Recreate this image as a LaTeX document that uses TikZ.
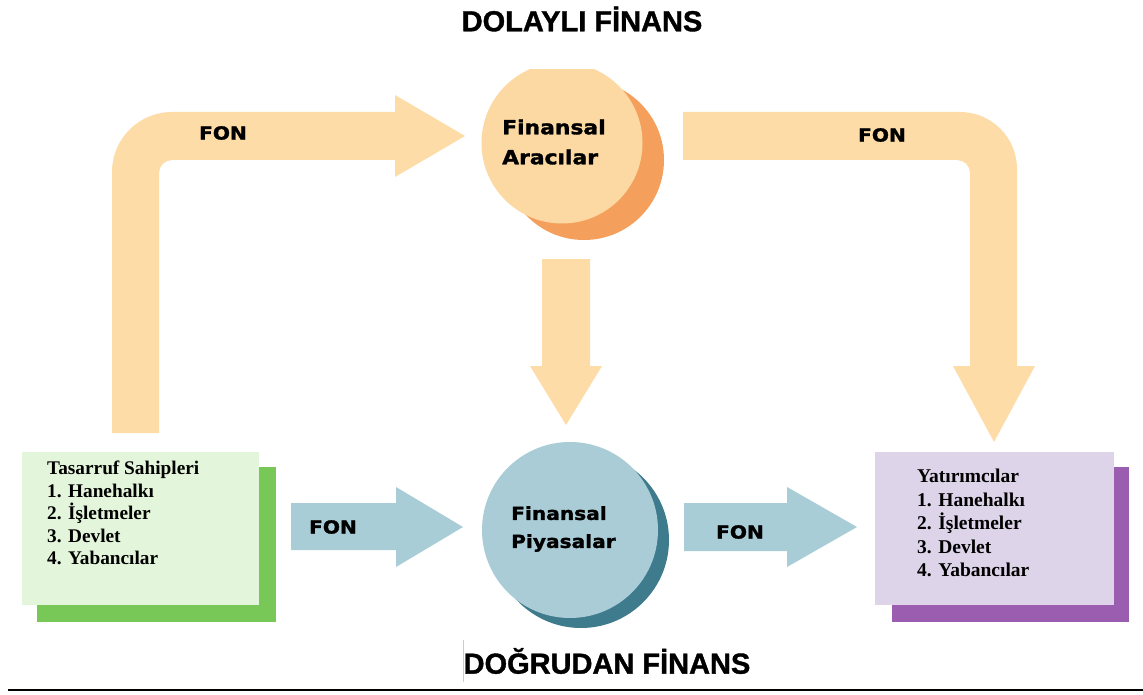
\documentclass[tikz,border=0pt]{standalone}
\usepackage{fontspec}
\setmainfont{Liberation Serif}
\newfontfamily\heavy[FakeStretch=1.12,FakeBold=1.6]{DejaVu Sans}
\newfontfamily\titlefont[FakeBold=1.2]{Liberation Sans}
\definecolor{peach}{HTML}{FDDCA8}
\definecolor{peachC}{HTML}{FCD9A2}
\definecolor{orangeS}{HTML}{F4A05C}
\definecolor{blueA}{HTML}{A9CDD7}
\definecolor{blueC}{HTML}{A9CCD6}
\definecolor{tealS}{HTML}{3D7B8D}
\definecolor{greenF}{HTML}{E3F5DB}
\definecolor{greenS}{HTML}{77C857}
\definecolor{purpF}{HTML}{DDD4EA}
\definecolor{purpS}{HTML}{9A5DB0}
\tikzset{
  fonlbl/.style={font=\heavy\bfseries\fontsize{18}{20}\selectfont, inner sep=0pt},
  circlbl/.style={font=\heavy\bfseries\fontsize{19.5}{30}\selectfont, align=left, inner sep=0pt, anchor=west},
  boxlbl/.style={font=\bfseries\fontsize{19.3}{22.5}\selectfont, align=left, inner sep=0pt, anchor=north west},
  titlelbl/.style={font=\titlefont\bfseries\fontsize{29}{31}\selectfont, inner sep=0pt},
  boxnode/.style={rectangle, inner sep=0pt, anchor=north west},
  disc/.style={circle, inner sep=0pt}
}
\begin{document}
\begin{tikzpicture}[x=1pt, y=-1pt]
\useasboundingbox (0,0) rectangle (1143,695);
\fill[white] (0,0) rectangle (1143,695);

% titles
\node[titlelbl] (dolayli) at (582,19) {DOLAYLI FİNANS};
\node[titlelbl] (dogrudan) at (607,661) {DOĞRUDAN FİNANS};
\draw[black!20, line width=0.6pt] (463,640) -- (463,682);
\draw[black, line width=2pt] (8,690) -- (1143,690);

% upper bent arrows
\fill[peach] (159,433) [rounded corners=13pt] -- (159,160) [sharp corners] -- (395,160) -- (395,177) -- (465,136) -- (395,95) -- (395,112) [rounded corners=60pt] -- (112,112) [sharp corners] -- (112,433) -- cycle;
\fill[peach] (683,112) [rounded corners=57pt] -- (1017,112) [sharp corners] -- (1017,366) -- (1035,366) -- (994,442) -- (953,366) -- (970,366) [rounded corners=13pt] -- (970,160) [sharp corners] -- (683,160) -- cycle;
\node[fonlbl] (fon1) at (223,133) {FON};
\node[fonlbl] (fon2) at (882,135) {FON};

% middle down arrow
\fill[peach] (542,259) -- (590,259) -- (590,366) -- (602,366) -- (566,425) -- (530,366) -- (542,366) -- cycle;

% Finansal Aracilar circle
\begin{scope}
\clip (0,70) rectangle (1143,695);
\node[disc, fill=orangeS, minimum size=160pt] (faS) at (584,160) {};
\node[disc, fill=peachC, minimum size=161pt] (fa) at (562,143) {};
\end{scope}
\node[circlbl] (faT) at (502,142) {Finansal\\Aracılar};

% lower straight arrows
\fill[blueA] (291,503) -- (396,503) -- (396,487) -- (463,527) -- (396,567) -- (396,550) -- (291,550) -- cycle;
\fill[blueA] (684,503) -- (787,503) -- (787,487) -- (857,527) -- (787,567) -- (787,551) -- (684,551) -- cycle;
\node[fonlbl] (fon3) at (333,527) {FON};
\node[fonlbl] (fon4) at (740,532) {FON};

% Finansal Piyasalar circle
\node[disc, fill=tealS, minimum size=176pt] (fpS) at (581,540) {};
\node[disc, fill=blueC, minimum size=176pt] (fp) at (570,530) {};
\node[circlbl, font=\heavy\bfseries\fontsize{18}{28}\selectfont] (fpT) at (511,529) {Finansal\\Piyasalar};

% left box
\fill[greenS] (37,467) rectangle (276,622);
\node[boxnode, fill=greenF, minimum width=237pt, minimum height=153pt] (tas) at (22,452) {};
\node[boxlbl] (tasT) at (47,461) {Tasarruf Sahipleri\\1. Hanehalkı\\2. İşletmeler\\3. Devlet\\4. Yabancılar};

% right box
\fill[purpS] (892,467) rectangle (1129,622);
\node[boxnode, fill=purpF, minimum width=239pt, minimum height=153pt] (yat) at (875,452) {};
\node[boxlbl, font=\bfseries\fontsize{19.5}{23.5}\selectfont] (yatT) at (917,469) {Yatırımcılar\\1. Hanehalkı\\2. İşletmeler\\3. Devlet\\4. Yabancılar};
\end{tikzpicture}
\end{document}
